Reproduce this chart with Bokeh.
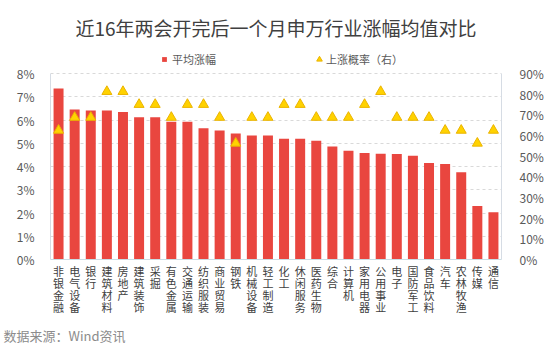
from bokeh.plotting import figure
from bokeh.models import (Range1d, LinearAxis, FixedTicker, PrintfTickFormatter, Title,
                          ColumnDataSource, Legend, LegendItem)
from bokeh.embed import file_html
from bokeh.resources import INLINE

categories = ["非银金融", "电气设备", "银行", "建筑材料", "房地产", "建筑装饰", "采掘",
              "有色金属", "交通运输", "纺织服装", "商业贸易", "钢铁", "机械设备", "轻工制造",
              "化工", "休闲服务", "医药生物", "综合", "计算机", "家用电器", "公用事业",
              "电子", "国防军工", "食品饮料", "汽车", "农林牧渔", "传媒", "通信"]
avg_rise = [7.35, 6.45, 6.41, 6.41, 6.34, 6.12, 6.12, 5.93, 5.92, 5.65, 5.55, 5.42, 5.33, 5.33,
            5.19, 5.19, 5.11, 4.86, 4.68, 4.58, 4.55, 4.54, 4.46, 4.15, 4.11, 3.75, 2.30, 2.03]
up_prob = [62.5, 68.75, 68.75, 81.25, 81.25, 75, 75, 68.75, 75, 75, 68.75, 56.25, 68.75, 68.75,
           75, 75, 68.75, 68.75, 68.75, 75, 81.25, 68.75, 68.75, 68.75, 62.5, 62.5, 56.25, 62.5]
left_ticks = [0, 1, 2, 3, 4, 5, 6, 7, 8]
right_ticks = [0, 10, 20, 30, 40, 50, 60, 70, 80, 90]

title_text = "近16年两会开完后一个月申万行业涨幅均值对比"
source_text = "数据来源：Wind资讯"
legend_bar = "平均涨幅"
legend_tri = "上涨概率（右）"

FONT = "Noto Sans CJK SC"
W, H = 558, 351
FL, FR, FB = 50, 501, 259
AX_TOP = 73          # pixel row of the 8% / 90% line
FT = 50              # frame top (room for the legend inside the frame)
n = len(categories)
L_MAX, R_MAX = left_ticks[-1], right_ticks[-1]
scale = (FB - FT) / (FB - AX_TOP)
left_top = L_MAX * scale
right_top = R_MAX * scale

p = figure(width=W, height=H, output_backend="svg", toolbar_location=None,
           x_range=Range1d(-0.5, n - 0.5), y_range=Range1d(0, left_top),
           min_border_left=FL, min_border_right=W - FR, min_border_top=FT,
           min_border_bottom=H - FB)
p.outline_line_color = None
p.background_fill_color = "white"
p.border_fill_color = "white"
p.extra_y_ranges = {"r": Range1d(0, right_top)}

src = ColumnDataSource(dict(x=list(range(n)), avg=avg_rise, prob=up_prob, cat=categories))

bars = p.vbar(x="x", top="avg", width=0.62, source=src, fill_color="#E9463F", line_color=None)
tris = p.scatter(x="x", y="prob", marker="triangle", size=10, source=src, y_range_name="r",
                 fill_color="#FFD200", line_color="#EBB400", line_width=1)

# axes
ya = p.yaxis[0]
ya.ticker = FixedTicker(ticks=left_ticks)
ya.formatter = PrintfTickFormatter(format="%d%%")
ya.bounds = (0, L_MAX)
right = LinearAxis(y_range_name="r", ticker=FixedTicker(ticks=right_ticks),
                   formatter=PrintfTickFormatter(format="%d%%"), bounds=(0, R_MAX))
p.add_layout(right, "right")
for ax in (ya, right):
    ax.major_tick_line_color = None
    ax.minor_tick_line_color = None
    ax.axis_line_color = "#D6DCE4"
    ax.major_label_text_font = FONT
    ax.major_label_text_font_size = "12px"
    ax.major_label_text_color = "#595959"
ya.major_label_standoff = 10
right.major_label_standoff = 12

# category labels: characters stacked vertically, one axis row per character
max_len = max(len(c) for c in categories)
xa = p.xaxis[0]
rows = [xa] + [LinearAxis() for _ in range(max_len - 1)]
for j, ax in enumerate(rows):
    if j > 0:
        p.add_layout(ax, "below")
    ax.ticker = FixedTicker(ticks=list(range(n)))
    ax.major_label_overrides = {i: (c[j] if j < len(c) else " ") for i, c in enumerate(categories)}
    ax.major_label_text_font = FONT
    ax.major_label_text_font_size = "11px"
    ax.major_label_text_color = "#404040"
    ax.major_label_standoff = 3 if j == 0 else -7
    ax.major_tick_line_color = None
    ax.minor_tick_line_color = None
    ax.major_tick_out = 0
    ax.major_tick_in = 0
    ax.axis_line_color = "#C9DDE3" if j == 0 else None

p.xgrid.visible = False
p.ygrid.ticker = FixedTicker(ticks=left_ticks)
p.ygrid.grid_line_color = "#D9D9D9"
p.ygrid.grid_line_dash = "3 3"

# title
p.title.text = title_text
p.title.align = "center"
p.title.text_font = FONT
p.title.text_font_size = "19px"
p.title.text_font_style = "normal"
p.title.text_color = "#404040"
p.title.standoff = 20

# legends (inside the frame, above the 8% line)
def legend_for(label, renderer, loc, gw, gh, standoff, lh):
    return Legend(items=[LegendItem(label=label, renderers=[renderer])],
                  location=loc, orientation="horizontal",
                  glyph_width=gw, glyph_height=gh, label_standoff=standoff,
                  padding=0, margin=0, border_line_color=None,
                  background_fill_alpha=0, label_text_font=FONT,
                  label_text_font_size="11px", label_text_color="#595959",
                  label_height=lh)

p.add_layout(legend_for(legend_bar, bars, (161 - FL, FB - 67), 6, 6, 5, 14))
p.add_layout(legend_for(legend_tri, tris, (312 - FL, FB - 67), 14, 14, 0, 14))

# source note
p.add_layout(Title(text=source_text, align="left", offset=-(FL - 3), text_font=FONT,
                   text_font_size="13px", text_font_style="normal", standoff=12,
                   text_color="#8C8C8C"), "below")

open("out.html", "w").write(file_html(p, INLINE))
